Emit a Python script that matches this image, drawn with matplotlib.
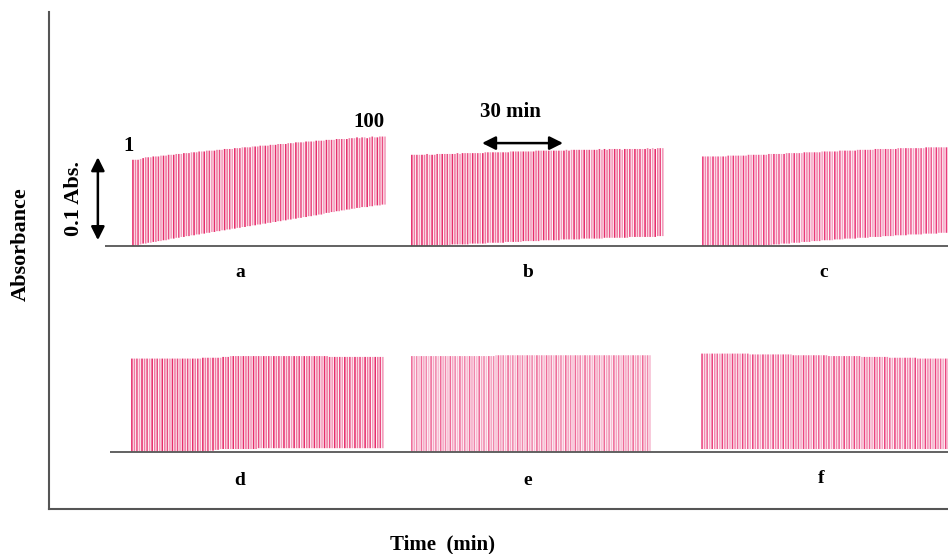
import matplotlib
matplotlib.use('Agg')
import matplotlib.pyplot as plt

# ---------------- data (peak top / baseline, mAbs relative to panel baseline) ----------------
panel_labels = ['a', 'b', 'c', 'd', 'e', 'f']
injection_count_label = ['1', '100']
arrow_time_label = '30 min'
arrow_abs_label = '0.1 Abs.'
x_title = 'Time  (min)'
y_title = 'Absorbance'

a_top = [104,104,104,105,106,107,107,107,108,108,
         108,109,109,109,110,110,110,111,111,111,
         112,112,112,113,113,113,114,114,114,115,
         115,115,115,116,116,116,117,117,117,117,
         118,118,118,119,119,119,119,120,120,120,
         121,121,121,121,122,122,122,123,123,123,
         123,124,124,124,125,125,125,125,126,126,
         126,126,127,127,127,127,128,128,128,128,
         129,129,129,129,129,130,130,130,131,130,
         131,131,130,131,132,131,131,132,132,132]
a_base = [0,1,1,2,3,3,4,4,5,5,
          6,6,7,7,8,9,9,10,10,11,
          11,12,12,13,13,14,14,15,15,16,
          16,17,17,18,18,19,19,20,20,21,
          21,22,22,23,23,24,24,25,25,26,
          26,27,27,28,28,29,29,30,30,31,
          31,32,32,33,33,34,34,35,35,36,
          36,37,37,38,38,39,40,40,41,41,
          42,42,43,43,44,44,45,45,46,46,
          47,47,47,48,48,49,49,49,50,50]

b_top = [110,110,110,110,110,110,111,110,110,110,
         111,111,111,111,111,111,111,111,112,111,
         112,112,112,112,112,112,112,112,112,113,
         113,113,113,113,113,113,113,113,113,114,
         114,114,114,114,114,114,114,114,114,115,
         115,115,115,115,115,115,115,115,115,115,
         115,116,115,116,116,116,116,116,116,116,
         116,116,116,116,117,116,117,116,117,117,
         117,117,117,116,117,117,117,117,117,117,
         117,117,117,118,117,118,117,118,118,118]
b_base = [0,0,0,0,0,0,0,0,1,1,
          1,1,1,1,1,1,2,2,2,2,
          2,2,2,3,3,3,3,3,3,3,
          4,4,4,4,4,4,4,5,5,5,
          5,5,5,5,6,6,6,6,6,6,
          6,7,7,7,7,7,7,7,7,8,
          8,8,8,8,8,8,8,9,9,9,
          9,9,9,9,9,9,10,10,10,10,
          10,10,10,10,10,10,11,11,11,11,
          11,11,11,11,11,11,11,12,12,12]

c_top = [108,108,108,108,108,108,108,108,108,108,
         109,109,109,109,109,109,109,109,110,110,
         110,110,110,110,110,110,111,111,111,111,
         111,111,111,112,112,112,112,112,112,112,
         113,113,113,113,113,113,113,114,114,114,
         114,114,114,114,115,115,115,115,115,115,
         115,116,116,116,116,116,116,116,117,117,
         117,117,117,117,117,117,117,118,118,118,
         118,118,118,118,118,118,118,118,119,119,
         119,119,119,119,119,119,119,119,119,119]
c_base = [0,0,0,0,0,0,0,0,0,0,
          0,0,0,0,0,0,0,0,0,0,
          0,0,0,0,0,1,1,1,2,2,
          2,3,3,3,3,4,4,4,4,5,
          5,5,5,6,6,6,6,7,7,7,
          7,7,8,8,8,8,9,9,9,9,
          9,10,10,10,10,10,11,11,11,11,
          11,12,12,12,12,12,13,13,13,13,
          13,14,14,14,14,14,14,15,15,15,
          15,15,15,16,16,16,16,16,16,16]

d_top = [112,112,112,112,112,112,112,112,112,112,
         112,112,112,112,112,112,112,112,112,112,
         112,112,112,112,112,112,112,112,113,113,
         113,113,113,113,113,113,114,114,114,115,
         115,115,115,115,115,115,115,115,115,115,
         115,115,115,115,115,115,115,115,115,115,
         115,115,115,115,115,115,115,115,115,115,
         115,115,115,115,115,115,115,115,114,114,
         114,114,114,114,114,114,114,114,114,114,
         114,114,114,114,114,114,114,114,114,114]
d_base = [0,0,0,0,0,0,0,0,0,0,
          0,0,0,0,0,0,0,0,0,0,
          0,0,0,0,0,0,0,0,0,0,
          0,1,1,2,2,3,3,3,3,3,
          3,3,3,3,3,3,3,3,3,3,
          4,4,4,4,4,4,4,4,4,4,
          4,4,4,4,4,4,4,4,4,4,
          4,4,4,4,4,4,4,4,4,4,
          4,4,4,4,4,4,4,4,4,4,
          4,4,4,4,4,4,4,4,4,4]

e_top = [115,115,115,115,115,115,115,115,115,115,
         115,115,115,115,115,115,115,115,115,115,
         115,115,115,115,115,115,115,115,115,115,
         115,115,115,115,115,116,116,116,116,116,
         116,116,116,116,116,116,116,116,116,116,
         116,116,116,116,116,116,116,116,116,116,
         116,116,116,116,116,116,116,116,116,116,
         116,116,116,116,116,116,116,116,116,116,
         116,116,116,116,116,116,116,116,116,116,
         116,116,116,116,116,116,116,116,116,116]
e_base = [0,0,0,0,0,0,0,0,0,0,
          0,0,0,0,0,0,0,0,0,0,
          0,0,0,0,0,0,0,0,0,0,
          0,0,0,0,0,0,0,0,0,0,
          0,0,0,0,0,0,0,0,0,0,
          0,0,0,0,0,0,0,0,0,0,
          0,0,0,0,0,0,0,0,0,0,
          0,0,0,0,0,0,0,0,0,0,
          0,0,0,0,0,0,0,0,0,0,
          0,0,0,0,0,0,0,0,0,0]

f_top = [118,118,118,118,118,118,118,118,118,118,
         118,118,118,118,118,118,118,118,118,117,
         117,117,117,117,117,117,117,117,117,117,
         117,117,117,117,117,117,116,116,116,116,
         116,116,116,116,116,116,116,116,116,116,
         115,115,115,115,115,115,115,115,115,115,
         115,115,115,114,114,114,114,114,114,114,
         114,114,114,114,113,113,113,113,113,113,
         113,113,113,113,113,112,112,112,112,112,
         112,112,112,112,112,112,112,112,112,112]
f_base = [3,3,3,3,3,3,3,3,3,3,
          3,3,3,3,3,3,3,3,3,3,
          3,3,3,3,3,3,3,3,3,3,
          3,3,3,3,3,3,3,3,3,3,
          3,3,3,3,3,3,3,3,3,3,
          3,3,3,3,3,3,3,3,3,3,
          3,3,3,3,3,3,3,3,3,3,
          3,3,3,3,3,3,3,3,3,3,
          3,3,3,3,3,3,3,3,3,3,
          3,3,3,3,3,3,3,3,3,3]

panel_tops = [a_top, b_top, c_top, d_top, e_top, f_top]
panel_bases = [a_base, b_base, c_base, d_base, e_base, f_base]

# ---------------- layout ----------------
W, H = 948, 554
fig = plt.figure(figsize=(W / 100, H / 100), dpi=100)
ax = fig.add_axes([49 / W, (H - 509) / H, (W - 49) / W, (509 - 12) / H])
ax.set_xlim(0, 333)
ax.set_ylim(0, 0.599)
ax.set_xticks([])
ax.set_yticks([])
for s in ['top', 'right']:
    ax.spines[s].set_visible(False)
for s in ['left', 'bottom']:
    ax.spines[s].set_color('#555555')
    ax.spines[s].set_linewidth(1.5)

row_base = [0.3169, 0.3169, 0.3169, 0.0693, 0.0693, 0.0693]
start_t = [31.1, 134.4, 242.2, 30.7, 134.4, 241.9]
step_t = [0.943, 0.939, 0.94, 0.939, 0.891, 0.94]
palettes = [
    ['#e62e6c', '#f07aa2', '#ea4c82', '#f39aba'],
    ['#e62e6c', '#f07aa2', '#ea4c82', '#f39aba'],
    ['#ea3a7a', '#f384ae', '#ee5a90', '#f5a4c4'],
    ['#e62e6c', '#f07aa2', '#ea4c82', '#f39aba'],
    ['#ee6a98', '#f5a8c4', '#f086ac', '#f7bcd2'],
    ['#ea4580', '#f38ab0', '#ee6496', '#f5a9c6'],
]

for k in range(6):
    tops = panel_tops[k]
    bases = panel_bases[k]
    n = len(tops)
    xs = [start_t[k] + i * step_t[k] for i in range(n)]
    y0 = [row_base[k] + b / 1000 for b in bases]
    y1 = [row_base[k] + t / 1000 for t in tops]
    cols = [palettes[k][i % 4] for i in range(n)]
    lc = ax.vlines(xs, y0, y1, colors=cols, linewidth=1.15, zorder=2)
    lc.set_snap(False)

# baselines
ax.hlines(0.3169, 20.7, 333, color='#555555', linewidth=1.3, zorder=3)
ax.hlines(0.0693, 22.6, 333, color='#555555', linewidth=1.3, zorder=3)

font = dict(family='Liberation Serif', weight='bold', color='black')
label_pos = [(70.7, 0.2855), (177.4, 0.2855), (287.0, 0.2855),
             (70.7, 0.0349), (177.4, 0.0349), (286.0, 0.037)]
for lab, (tx, ty) in zip(panel_labels, label_pos):
    ax.text(tx, ty, lab, ha='center', va='center', fontsize=14, **font)

ax.text(29.3, 0.437, injection_count_label[0], ha='center', va='center', fontsize=15, **font)
ax.text(118.5, 0.466, injection_count_label[1], ha='center', va='center', fontsize=15, **font)
ax.text(171.0, 0.478, arrow_time_label, ha='center', va='center', fontsize=15, **font)
ax.annotate('', xy=(160.4, 0.441), xytext=(190.4, 0.441),
            arrowprops=dict(arrowstyle='<|-|>', color='black', lw=1.8,
                            mutation_scale=20, shrinkA=0, shrinkB=0))
ax.annotate('', xy=(18.1, 0.424), xytext=(18.1, 0.324),
            arrowprops=dict(arrowstyle='<|-|>', color='black', lw=1.8,
                            mutation_scale=20, shrinkA=0, shrinkB=0))
ax.text(9.3, 0.3745, arrow_abs_label, ha='center', va='center', rotation=90,
        fontsize=16, **font)

fig.text(21 / W, 1 - 244 / H, y_title, ha='center', va='center', rotation=90,
         fontsize=16, **font)
fig.text(443 / W, 1 - 544 / H, x_title, ha='center', va='center',
         fontsize=15, **font)

fig.savefig('out.png', dpi=100)
